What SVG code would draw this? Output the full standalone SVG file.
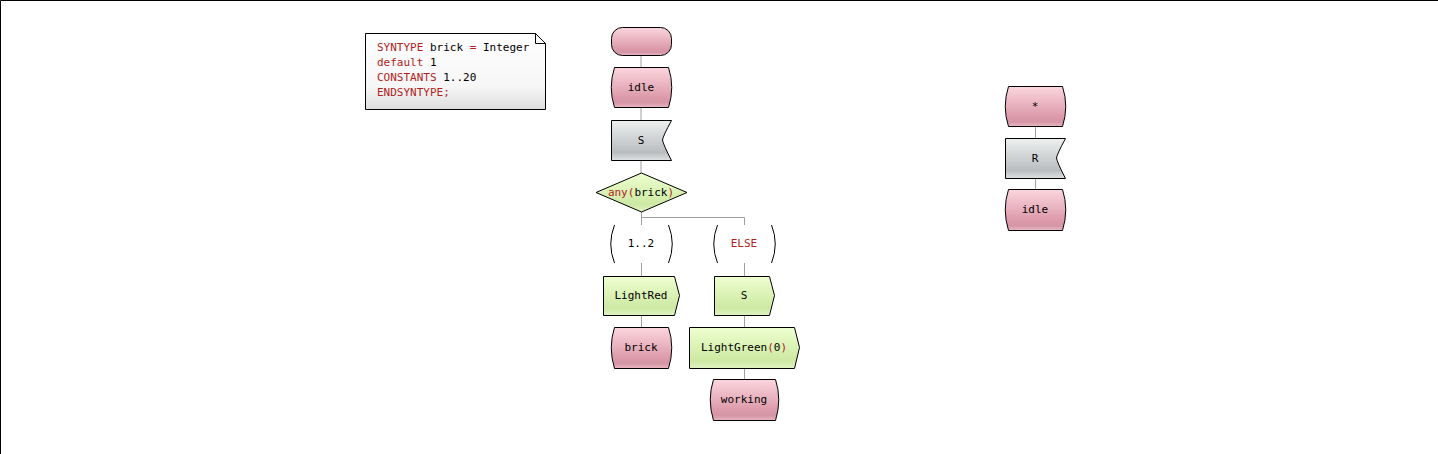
<svg xmlns="http://www.w3.org/2000/svg" width="1438" height="454" viewBox="0 0 1438 454">
<style>
.t{font-family:"DejaVu Sans Mono",monospace;font-size:11px;fill:#000}
.k{fill:#b22222}
.sh{stroke:#000;stroke-width:1}
.st{fill:url(#gs)}
.in{fill:url(#gi)}
.out{fill:url(#go)}
.cn{stroke:#a0a0a0;stroke-width:1;fill:none}
</style>
<defs>
<linearGradient id="gs" x1="0" y1="0" x2="0" y2="1">
<stop offset="0" stop-color="#fbd6de"/>
<stop offset="0.75" stop-color="#dc9aaa"/>
<stop offset="0.88" stop-color="#d495a5"/>
<stop offset="1" stop-color="#eab8c3"/>
</linearGradient>
<linearGradient id="gi" x1="0" y1="0" x2="0" y2="1">
<stop offset="0" stop-color="#eef0f0"/>
<stop offset="0.8" stop-color="#b9bdbf"/>
<stop offset="1" stop-color="#dfe2e3"/>
</linearGradient>
<linearGradient id="go" x1="0" y1="0" x2="0" y2="1">
<stop offset="0" stop-color="#eeffd0"/>
<stop offset="0.8" stop-color="#cde9a3"/>
<stop offset="1" stop-color="#e0f3c3"/>
</linearGradient>
<linearGradient id="gc" x1="0" y1="0" x2="0" y2="1">
<stop offset="0" stop-color="#ffffff"/>
<stop offset="0.7" stop-color="#f6f6f6"/>
<stop offset="1" stop-color="#dedede"/>
</linearGradient>
</defs>
<path d="M0.5,454 L0.5,0.5 L1438,0.5" stroke="#000" stroke-width="1" fill="none"/>
<g id="connectors">
<line class="cn" x1="641" y1="55" x2="641" y2="67"/>
<line class="cn" x1="641" y1="107" x2="641" y2="120"/>
<line class="cn" x1="641" y1="160" x2="641" y2="173"/>
<path class="cn" d="M641.5,212 L641.5,217.5 L744.5,217.5 L744.5,225"/>
<line class="cn" x1="641.5" y1="217" x2="641.5" y2="225"/>
<line class="cn" x1="641.5" y1="263" x2="641.5" y2="276"/>
<line class="cn" x1="641.5" y1="315" x2="641.5" y2="327"/>
<line class="cn" x1="744.5" y1="263" x2="744.5" y2="276"/>
<line class="cn" x1="744.5" y1="315" x2="744.5" y2="327"/>
<line class="cn" x1="744.5" y1="368" x2="744.5" y2="379"/>
<line class="cn" x1="1035.5" y1="126" x2="1035.5" y2="138"/>
<line class="cn" x1="1035.5" y1="178" x2="1035.5" y2="189"/>
</g>
<g id="comment">
<path class="sh" fill="url(#gc)" d="M365.5,33.5 L535.5,33.5 L545.5,43.5 L545.5,109.5 L365.5,109.5 Z"/>
<path class="sh" fill="none" d="M535.5,33.5 L535.5,43.5 L545.5,43.5"/>
<text class="t" x="377" y="51"><tspan class="k">SYNTYPE</tspan> brick <tspan class="k">=</tspan> Integer</text>
<text class="t" x="377" y="66"><tspan class="k">default</tspan> 1</text>
<text class="t" x="377" y="81"><tspan class="k">CONSTANTS</tspan> 1..20</text>
<text class="t" x="377" y="96"><tspan class="k">ENDSYNTYPE;</tspan></text>
</g>
<g id="start">
<rect class="sh st" x="611.5" y="27.5" width="60" height="28" rx="11" ry="11"/>
</g>
<g id="state_idle">
<path class="sh st" d="M614.5,67.5 L668.5,67.5 Q675,87.5 668.5,107.5 L614.5,107.5 Q608,87.5 614.5,67.5 Z"/>
<text class="t" x="641" y="91" text-anchor="middle">idle</text>
</g>
<g id="input_S">
<path class="sh in" d="M611.5,120.5 L671.5,120.5 Q663,136 662.5,140 Q663,144 671.5,160.5 L611.5,160.5 Z"/>
<text class="t" x="641" y="144" text-anchor="middle">S</text>
</g>
<g id="decision">
<path class="sh out" d="M641.5,173 L687,192.5 L641.5,212 L596,192.5 Z"/>
<text class="t" x="641" y="196" text-anchor="middle"><tspan class="k">any(</tspan>brick<tspan class="k">)</tspan></text>
</g>
<g id="answer_1_2">
<path class="sh" fill="none" d="M614.5,225 Q607,244 614.5,263"/>
<path class="sh" fill="none" d="M668.5,225 Q676,244 668.5,263"/>
<text class="t" x="641" y="247" text-anchor="middle">1..2</text>
</g>
<g id="answer_else">
<path class="sh" fill="none" d="M717.5,225 Q710,244 717.5,263"/>
<path class="sh" fill="none" d="M771.5,225 Q779,244 771.5,263"/>
<text class="t k" x="744" y="247" text-anchor="middle">ELSE</text>
</g>
<g id="output_LightRed">
<path class="sh out" d="M603.5,276.5 L674.5,276.5 L679.5,295.5 L674.5,315.5 L603.5,315.5 Z"/>
<text class="t" x="641" y="299" text-anchor="middle">LightRed</text>
</g>
<g id="state_brick">
<path class="sh st" d="M614.5,327.5 L668.5,327.5 Q675,347.5 668.5,368.5 L614.5,368.5 Q608,347.5 614.5,327.5 Z"/>
<text class="t" x="641" y="351" text-anchor="middle">brick</text>
</g>
<g id="output_S">
<path class="sh out" d="M714.5,276.5 L769.5,276.5 L774.5,295.5 L769.5,315.5 L714.5,315.5 Z"/>
<text class="t" x="744" y="299" text-anchor="middle">S</text>
</g>
<g id="output_LightGreen">
<path class="sh out" d="M689.5,327.5 L794.5,327.5 L799.5,347.5 L794.5,368.5 L689.5,368.5 Z"/>
<text class="t" x="744" y="351" text-anchor="middle">LightGreen<tspan class="k">(</tspan>0<tspan class="k">)</tspan></text>
</g>
<g id="state_working">
<path class="sh st" d="M713.5,379.5 L775.5,379.5 Q782,399.5 775.5,420.5 L713.5,420.5 Q707,399.5 713.5,379.5 Z"/>
<text class="t" x="744" y="403" text-anchor="middle">working</text>
</g>
<g id="state_any">
<path class="sh st" d="M1008.5,86.5 L1062.5,86.5 Q1069,106.5 1062.5,126.5 L1008.5,126.5 Q1002,106.5 1008.5,86.5 Z"/>
<text class="t" x="1035" y="110" text-anchor="middle">*</text>
</g>
<g id="input_R">
<path class="sh in" d="M1005.5,138.5 L1065.5,138.5 Q1057,154 1056.5,158 Q1057,162 1065.5,178.5 L1005.5,178.5 Z"/>
<text class="t" x="1035" y="162" text-anchor="middle">R</text>
</g>
<g id="state_idle2">
<path class="sh st" d="M1008.5,189.5 L1062.5,189.5 Q1069,209.5 1062.5,230.5 L1008.5,230.5 Q1002,209.5 1008.5,189.5 Z"/>
<text class="t" x="1035" y="213" text-anchor="middle">idle</text>
</g>
</svg>
